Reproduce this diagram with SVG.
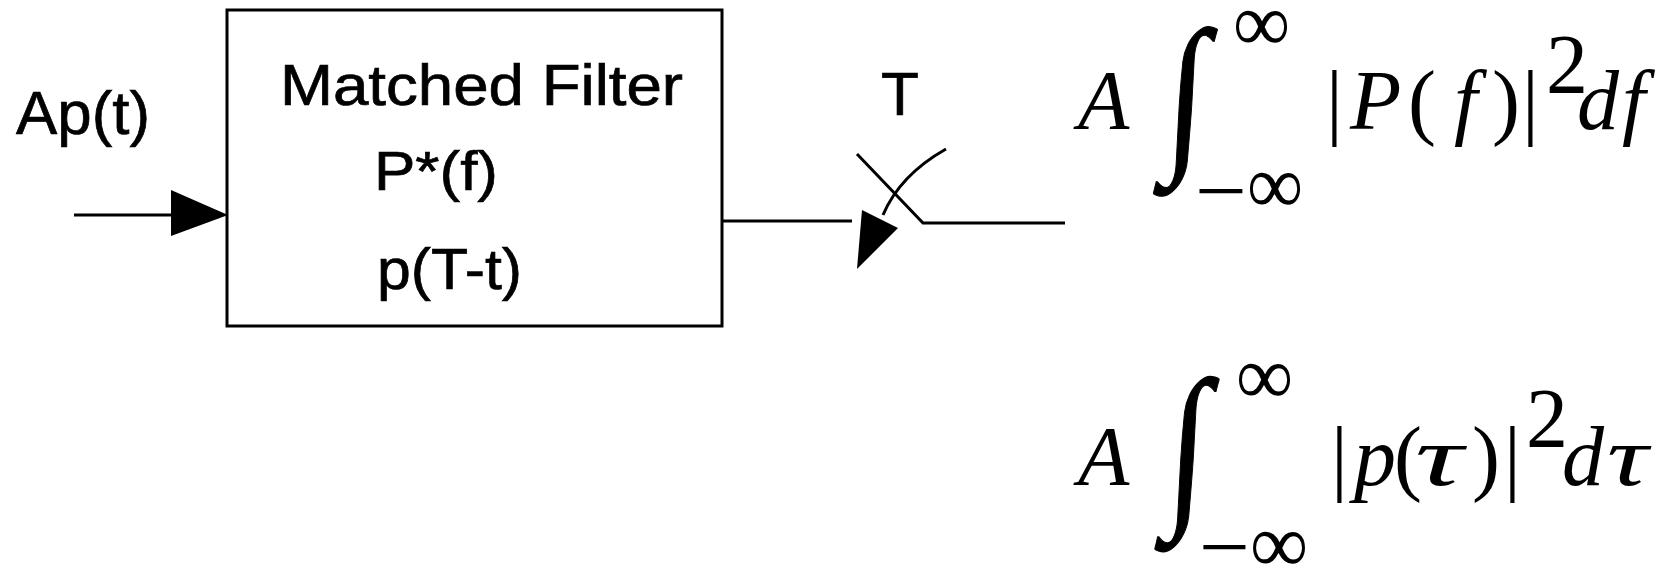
<svg xmlns="http://www.w3.org/2000/svg" width="1673" height="564" viewBox="0 0 1673 564">
<style>
.ln{stroke:#000;stroke-width:3;fill:none}
.sans{font-family:"Liberation Sans",Arial,sans-serif;fill:#000;stroke:#000;stroke-width:0.7}
.m{font-family:"Liberation Serif","Times New Roman",serif;fill:#000;font-size:84px}
.mi{font-style:italic}
.int{font-family:"Liberation Serif","Times New Roman",serif;fill:#000;stroke:#000;stroke-width:0.8;font-size:120px}
</style>
<rect width="1673" height="564" fill="#fff"/>
<g id="connectors">
<line class="ln" x1="74" y1="215" x2="200" y2="215"/>
<polygon points="171,190 228,215 171,236" fill="#000"/>
<line class="ln" x1="722" y1="221" x2="852" y2="221"/>
<polyline class="ln" points="857,154 923,223 1065,223"/>
<path class="ln" d="M946,149 Q900,175 883,215" stroke-width="2.6"/>
<polygon points="862,210 898,228 857,269" fill="#000"/>
</g>
<g id="input-label"><text class="sans" x="16" y="134" font-size="62" textLength="134" lengthAdjust="spacingAndGlyphs">Ap(t)</text></g>
<g id="matched-filter">
<rect x="227" y="10" width="495" height="316" fill="none" stroke="#000" stroke-width="3"/>
<text class="sans" x="280" y="105" font-size="57" textLength="403" lengthAdjust="spacingAndGlyphs">Matched Filter</text>
<text class="sans" x="374" y="190" font-size="56" textLength="124" lengthAdjust="spacingAndGlyphs">P*(f)</text>
<text class="sans" x="377" y="289" font-size="58" textLength="145" lengthAdjust="spacingAndGlyphs">p(T-t)</text>
</g>
<g id="sampler-label"><text class="sans" x="900" y="115" font-size="62" text-anchor="middle">T</text></g>
<g id="formula-freq">
<text class="m mi" x="1078" y="129">A</text>
<text class="int" transform="translate(1163.5,149.5) skewX(-3.4) scale(1.2,1.44)">∫</text>
<text class="m" x="1233" y="51" font-size="38" textLength="57" lengthAdjust="spacingAndGlyphs">∞</text>
<text class="m" x="1195" y="219" font-size="50" textLength="52" lengthAdjust="spacingAndGlyphs">−</text>
<text class="m" x="1247" y="213" font-size="38" textLength="56" lengthAdjust="spacingAndGlyphs">∞</text>
<text class="m" x="1326" y="129">|</text>
<text class="m mi" x="1350" y="129">P</text>
<text class="m" x="1408" y="129">(</text>
<text class="m mi" x="1454" y="129">f</text>
<text class="m" x="1492" y="129">)</text>
<text class="m" x="1522" y="129">|</text>
<text class="m" x="1546" y="93" font-size="42">2</text>
<text class="m mi" x="1577" y="129">d</text>
<text class="m mi" x="1622" y="129">f</text>
</g>
<g id="formula-time">
<text class="m mi" x="1078" y="485">A</text>
<text class="int" transform="translate(1165,504) skewX(-3.4) scale(1.2,1.49)">∫</text>
<text class="m" x="1236" y="404" font-size="38" textLength="57" lengthAdjust="spacingAndGlyphs">∞</text>
<text class="m" x="1199" y="575" font-size="50" textLength="51" lengthAdjust="spacingAndGlyphs">−</text>
<text class="m" x="1250" y="572" font-size="38" textLength="58" lengthAdjust="spacingAndGlyphs">∞</text>
<text class="m" x="1331" y="485">|</text>
<text class="m mi" x="1354" y="485">p</text>
<text class="m" x="1394" y="485">(</text>
<text class="m mi" x="1415" y="485" textLength="48" lengthAdjust="spacingAndGlyphs">τ</text>
<text class="m" x="1472" y="485">)</text>
<text class="m" x="1504" y="485">|</text>
<text class="m" x="1526" y="447" font-size="42">2</text>
<text class="m mi" x="1562" y="485">d</text>
<text class="m mi" x="1607" y="485" textLength="41" lengthAdjust="spacingAndGlyphs">τ</text>
</g>
</svg>
